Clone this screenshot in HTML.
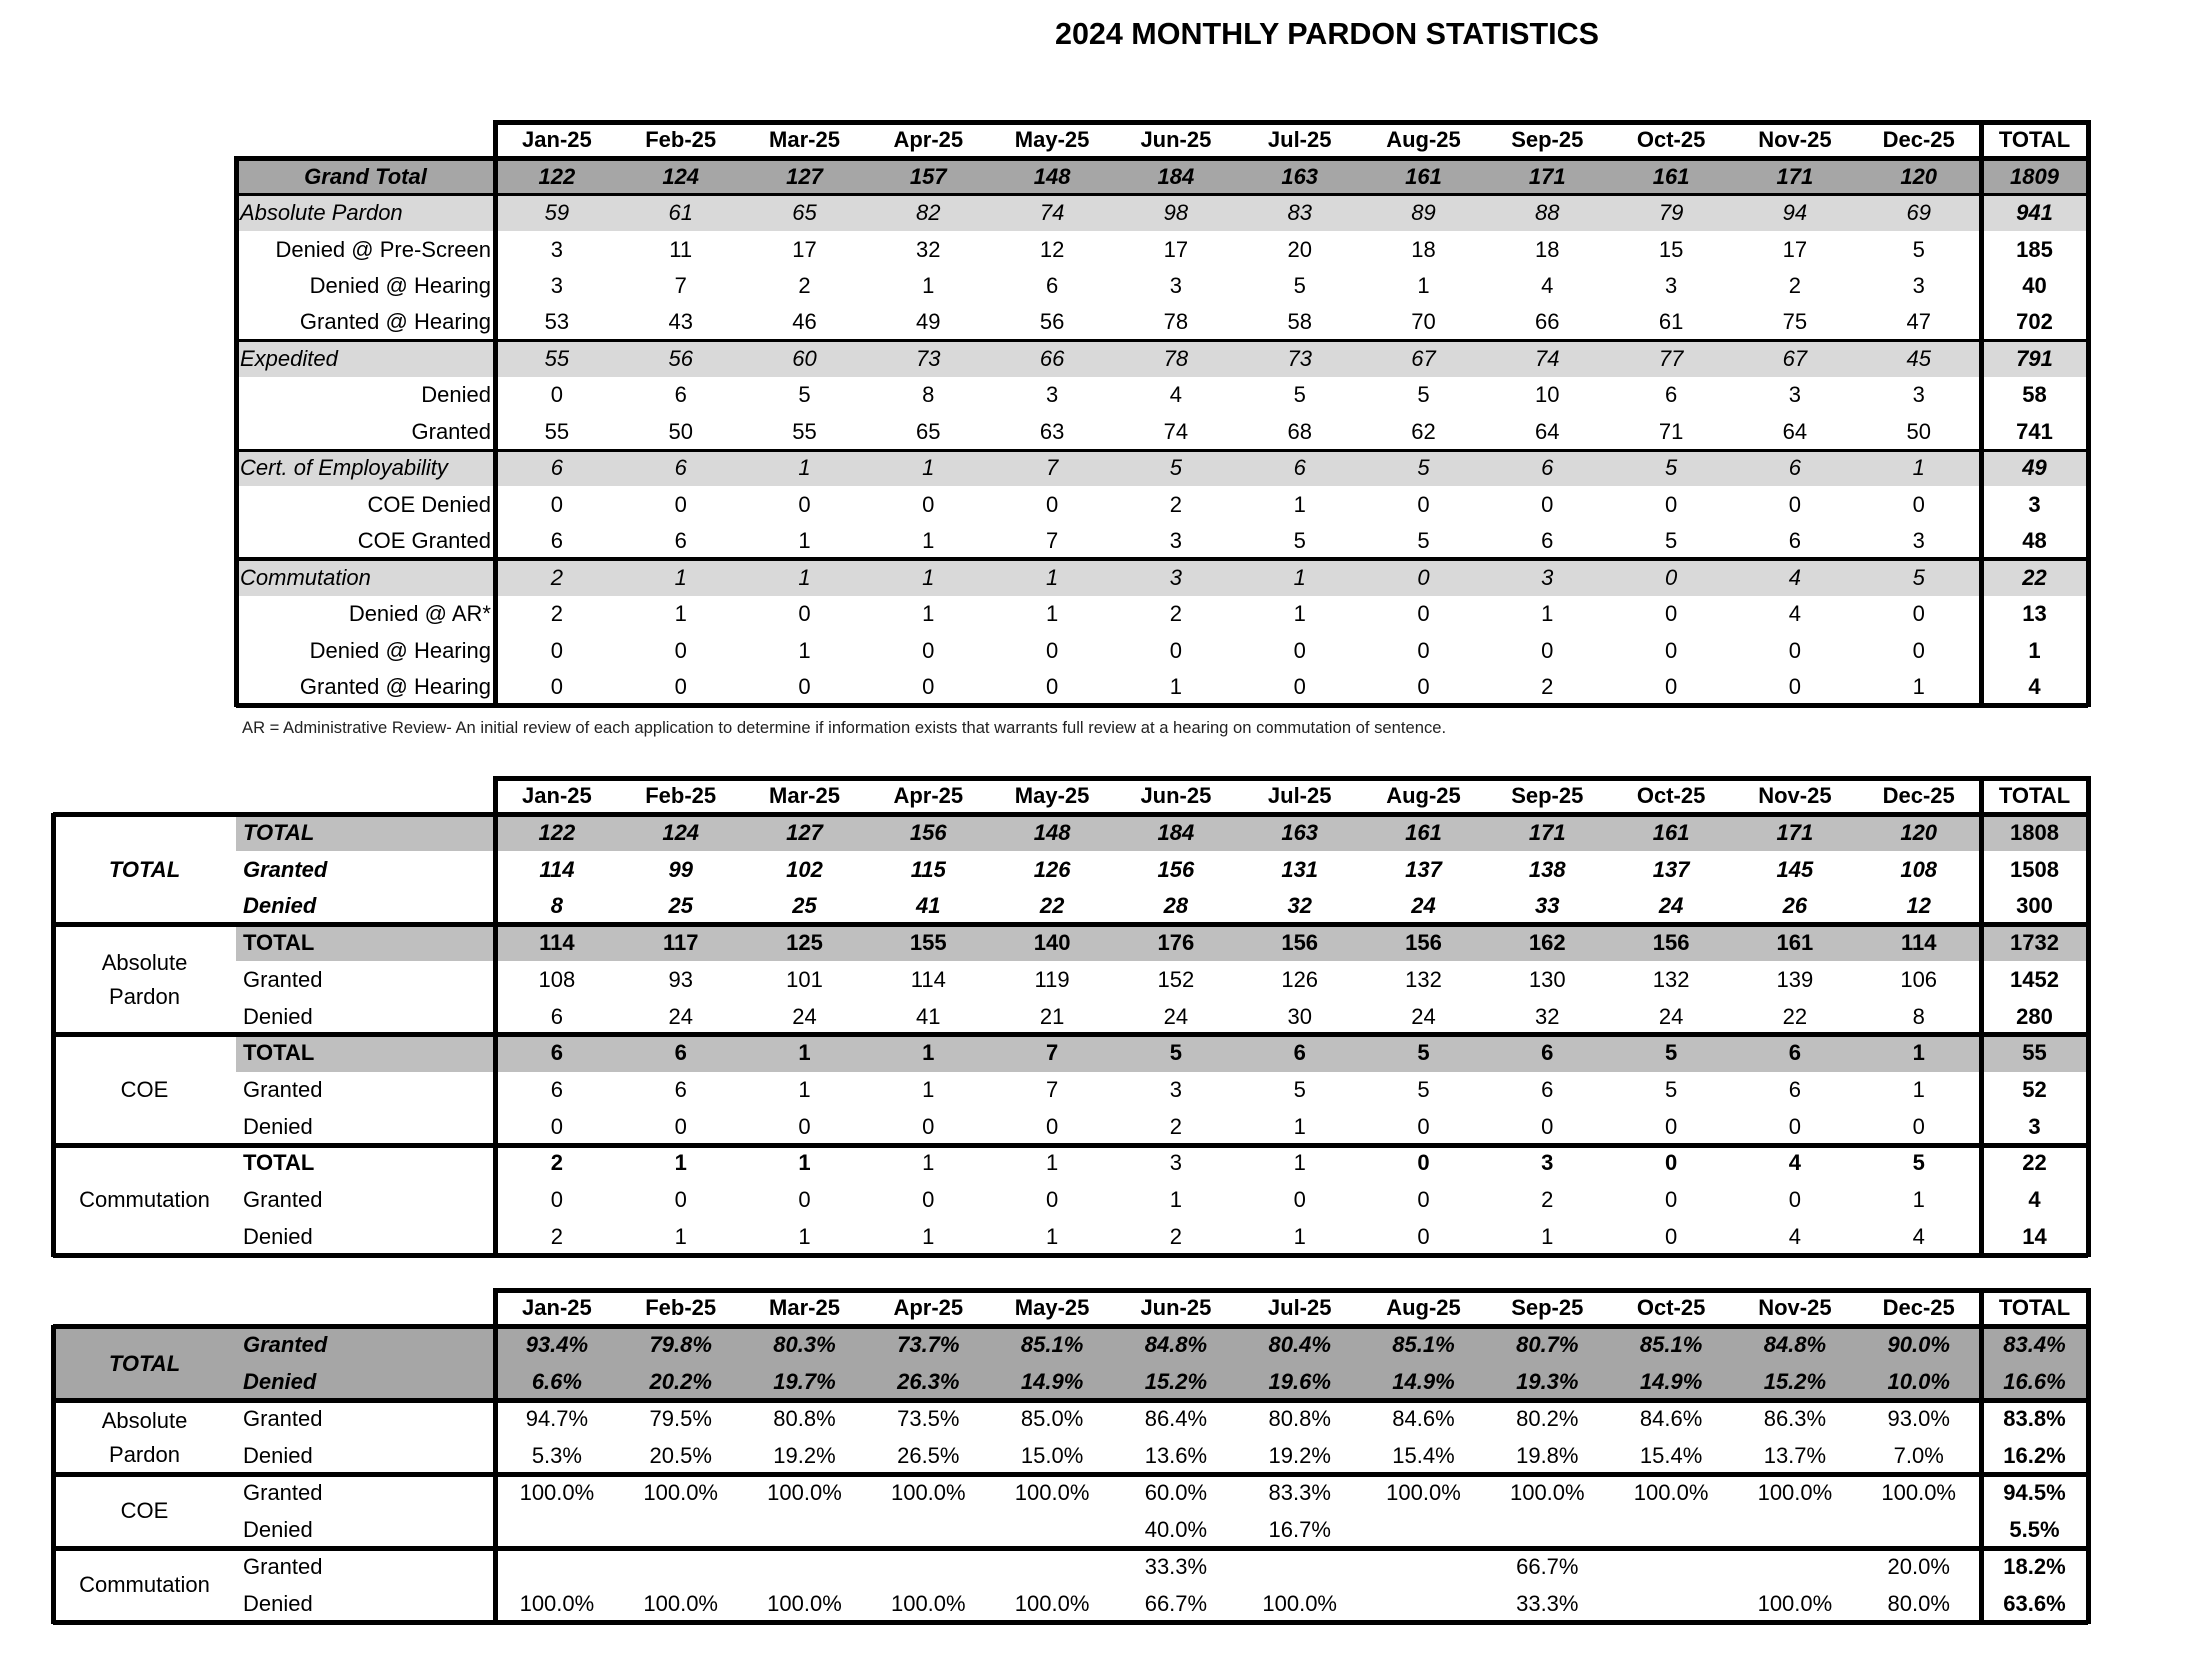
<!DOCTYPE html>
<html><head><meta charset="utf-8">
<style>
html,body{margin:0;padding:0;background:#fff;}
#page{position:relative;width:2195px;height:1672px;overflow:hidden;font-family:"Liberation Sans",sans-serif;color:#000;}
.c{position:absolute;display:flex;align-items:center;white-space:nowrap;font-size:22px;box-sizing:border-box;}
.ln{position:absolute;background:#000;}
.bg{position:absolute;}
</style></head>
<body>
<div id="page">
<div class="c" style="left:1017px;top:12px;width:620px;height:44px;justify-content:center;font-weight:bold;font-size:30.5px;">2024 MONTHLY PARDON STATISTICS</div>
<div class="c" style="left:242px;top:716px;height:24px;font-size:16.6px;color:#222;">AR = Administrative Review- An initial review of each application to determine if information exists that warrants full review at a hearing on commutation of sentence.</div>
</div>
<script>
const months = ["Jan-25","Feb-25","Mar-25","Apr-25","May-25","Jun-25","Jul-25","Aug-25","Sep-25","Oct-25","Nov-25","Dec-25"];
// Table 1
const t1Labels = ["Grand Total","Absolute Pardon","Denied @ Pre-Screen","Denied @ Hearing","Granted @ Hearing","Expedited","Denied","Granted","Cert. of Employability","COE Denied","COE Granted","Commutation","Denied @ AR*","Denied @ Hearing","Granted @ Hearing"];
const t1Kinds = ["grand","sub","item","item","item","sub","item","item","sub","item","item","sub","item","item","item"];
const t1Values = [
 [122,124,127,157,148,184,163,161,171,161,171,120],
 [59,61,65,82,74,98,83,89,88,79,94,69],
 [3,11,17,32,12,17,20,18,18,15,17,5],
 [3,7,2,1,6,3,5,1,4,3,2,3],
 [53,43,46,49,56,78,58,70,66,61,75,47],
 [55,56,60,73,66,78,73,67,74,77,67,45],
 [0,6,5,8,3,4,5,5,10,6,3,3],
 [55,50,55,65,63,74,68,62,64,71,64,50],
 [6,6,1,1,7,5,6,5,6,5,6,1],
 [0,0,0,0,0,2,1,0,0,0,0,0],
 [6,6,1,1,7,3,5,5,6,5,6,3],
 [2,1,1,1,1,3,1,0,3,0,4,5],
 [2,1,0,1,1,2,1,0,1,0,4,0],
 [0,0,1,0,0,0,0,0,0,0,0,0],
 [0,0,0,0,0,1,0,0,2,0,0,1]
];
const t1Totals = [1809,941,185,40,702,791,58,741,49,3,48,22,13,1,4];
// Table 2
const t2Groups = ["TOTAL","Absolute\nPardon","COE","Commutation"];
const t2Sub = ["TOTAL","Granted","Denied"];
const t2Values = [
 [122,124,127,156,148,184,163,161,171,161,171,120],
 [114,99,102,115,126,156,131,137,138,137,145,108],
 [8,25,25,41,22,28,32,24,33,24,26,12],
 [114,117,125,155,140,176,156,156,162,156,161,114],
 [108,93,101,114,119,152,126,132,130,132,139,106],
 [6,24,24,41,21,24,30,24,32,24,22,8],
 [6,6,1,1,7,5,6,5,6,5,6,1],
 [6,6,1,1,7,3,5,5,6,5,6,1],
 [0,0,0,0,0,2,1,0,0,0,0,0],
 [2,1,1,1,1,3,1,0,3,0,4,5],
 [0,0,0,0,0,1,0,0,2,0,0,1],
 [2,1,1,1,1,2,1,0,1,0,4,4]
];
const t2Totals = [1808,1508,300,1732,1452,280,55,52,3,22,4,14];
const t2CommBold = [1,1,1,0,0,0,0,1,1,1,1,1];
// Table 3
const t3Groups = ["TOTAL","Absolute\nPardon","COE","Commutation"];
const t3Sub = ["Granted","Denied"];
const t3Values = [
 ["93.4%","79.8%","80.3%","73.7%","85.1%","84.8%","80.4%","85.1%","80.7%","85.1%","84.8%","90.0%"],
 ["6.6%","20.2%","19.7%","26.3%","14.9%","15.2%","19.6%","14.9%","19.3%","14.9%","15.2%","10.0%"],
 ["94.7%","79.5%","80.8%","73.5%","85.0%","86.4%","80.8%","84.6%","80.2%","84.6%","86.3%","93.0%"],
 ["5.3%","20.5%","19.2%","26.5%","15.0%","13.6%","19.2%","15.4%","19.8%","15.4%","13.7%","7.0%"],
 ["100.0%","100.0%","100.0%","100.0%","100.0%","60.0%","83.3%","100.0%","100.0%","100.0%","100.0%","100.0%"],
 ["","","","","","40.0%","16.7%","","","","",""],
 ["","","","","","33.3%","","","66.7%","","","20.0%"],
 ["100.0%","100.0%","100.0%","100.0%","100.0%","66.7%","100.0%","","33.3%","","100.0%","80.0%"]
];
const t3Totals = ["83.4%","16.6%","83.8%","16.2%","94.5%","5.5%","18.2%","63.6%"];

const page = document.getElementById('page');
const MX = 495, MW = 123.8, TX = 1981, TW = 107, RIGHT = 2088;
function colX(i){ return MX + i*MW; }
function cell(x,y,w,h,text,opts){
  const d = document.createElement('div');
  d.className = 'c';
  d.style.left = x+'px'; d.style.top = y+'px'; d.style.width = w+'px'; d.style.height = h+'px';
  d.style.justifyContent = opts.align || 'center';
  if (opts.bold) d.style.fontWeight = 'bold';
  if (opts.italic) d.style.fontStyle = 'italic';
  if (opts.size) d.style.fontSize = opts.size+'px';
  if (opts.lh) { d.style.whiteSpace='pre'; d.style.textAlign='center'; d.style.lineHeight = opts.lh+'px'; }
  d.textContent = text;
  page.appendChild(d);
  return d;
}
function bg(x,y,w,h,color){
  const d = document.createElement('div');
  d.className='bg';
  
  
  d.style.cssText += `left:${x}px;top:${y}px;width:${w}px;height:${h}px;background:${color};`;
  page.appendChild(d);
}
function hl(x1,x2,y,t){
  const d=document.createElement('div'); d.className='ln';
  
  
  d.style.cssText += `left:${x1}px;top:${y-t/2}px;width:${x2-x1}px;height:${t}px;`;
  page.appendChild(d);
}
function vl(x,y1,y2,t){
  const d=document.createElement('div'); d.className='ln';
  
  
  d.style.cssText += `left:${x-t/2}px;top:${y1}px;width:${t}px;height:${y2-y1}px;`;
  page.appendChild(d);
}
function header(top,h){
  months.forEach((m,i)=>{
    const d = cell(colX(i),top,MW,h,m,{bold:true});
    
    
  });
  const d = cell(TX,top,TW,h,'TOTAL',{bold:true});
  
  
}

// ---------- Table 1 ----------
(function(){
  const top=122, h=36.45;
  header(top,h);
  t1Labels.forEach((lab,r)=>{
    const y = top + (r+1)*h;
    const k = t1Kinds[r];
    if (k==='grand') bg(236,y,RIGHT-236,h,'#a6a6a6');
    if (k==='sub') bg(236,y,RIGHT-236,h,'#d9d9d9');
    let d;
    if (k==='grand') d = cell(236,y,259,h,lab,{bold:true,italic:true});
    else if (k==='sub') d = cell(240,y,255,h,lab,{italic:true,align:'flex-start'});
    else d = cell(236,y,255,h,lab,{align:'flex-end'});
    
    
    t1Values[r].forEach((v,i)=>{
      const c = cell(colX(i),y,MW,h,String(v),{italic:k!=='item',bold:k==='grand'});
      
      
    });
    const t = cell(TX,y,TW,h,String(t1Totals[r]),{bold:true,italic:k!=='item'});
    
    
  });
  const bottom = top + 16*h;
  hl(495,RIGHT,top,5);
  hl(236,RIGHT,top+h,5);
  hl(236,RIGHT,top+2*h,3);
  hl(236,RIGHT,top+6*h,3);
  hl(236,RIGHT,top+9*h,3);
  hl(236,RIGHT,top+12*h,4);
  hl(236,RIGHT,bottom,5);
  vl(236,top+h-2,bottom+2,5);
  vl(495,top-2,bottom+2,5);
  vl(TX,top-2,bottom+2,5);
  vl(RIGHT,top-2,bottom+2,5);
})();

// ---------- Table 2 ----------
(function(){
  const top=778, h=36.7;
  header(top,h);
  for (let g=0; g<4; g++){
    const gy = top + (1+g*3)*h;
    const gl = cell(53,gy,183,3*h,t2Groups[g],{bold:g===0,italic:g===0,lh:g===1?34:null});
    
    
    for (let s=0;s<3;s++){
      const r = g*3+s;
      const y = top + (1+r)*h;
      if (s===0 && g<3) bg(236,y,RIGHT-236,h,'#bfbfbf');
      const bold = (g===0) || (s===0);
      const ital = (g===0);
      const sl = cell(243,y,250,h,t2Sub[s],{bold:bold,italic:ital,align:'flex-start'});
      
      
      t2Values[r].forEach((v,i)=>{
        let b = (g===0) || (s===0 && g<3);
        if (g===3 && s===0) b = !!t2CommBold[i];
        const c = cell(colX(i),y,MW,h,String(v),{bold:b,italic:g===0});
        
        
      });
      const t = cell(TX,y,TW,h,String(t2Totals[r]),{bold:true});
      
      
    }
  }
  const bottom = top+13*h;
  hl(495,RIGHT,top,5);
  [1,4,7,10].forEach(r=>hl(53,RIGHT,top+r*h,5));
  hl(53,RIGHT,bottom,5);
  vl(53,top+h-2,bottom+2,5);
  vl(495,top-2,bottom+2,5);
  vl(TX,top-2,bottom+2,5);
  vl(RIGHT,top-2,bottom+2,5);
})();

// ---------- Table 3 ----------
(function(){
  const top=1290, h=36.9;
  header(top,h);
  bg(53,top+h,RIGHT-53,2*h,'#a6a6a6');
  for (let g=0; g<4; g++){
    const gy = top + (1+g*2)*h;
    const gl = cell(53,gy,183,2*h,t3Groups[g],{bold:g===0,italic:g===0,lh:g===1?34:null});
    
    
    for (let s=0;s<2;s++){
      const r = g*2+s;
      const y = top+(1+r)*h;
      const sl = cell(243,y,250,h,t3Sub[s],{bold:g===0,italic:g===0,align:'flex-start'});
      
      
      t3Values[r].forEach((v,i)=>{
        const c = cell(colX(i),y,MW,h,v,{bold:g===0,italic:g===0});
        
        
      });
      const t = cell(TX,y,TW,h,t3Totals[r],{bold:true,italic:g===0});
      
      
    }
  }
  const bottom = top+9*h;
  hl(495,RIGHT,top,5);
  [1,3,5,7].forEach(r=>hl(53,RIGHT,top+r*h,5));
  hl(53,RIGHT,bottom,5);
  vl(53,top+h-2,bottom+2,5);
  vl(495,top-2,bottom+2,5);
  vl(TX,top-2,bottom+2,5);
  vl(RIGHT,top-2,bottom+2,5);
})();
</script>
</body></html>
